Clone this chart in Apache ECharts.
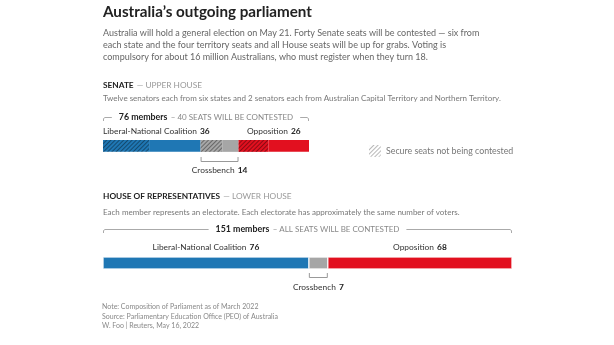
<!DOCTYPE html>
<html><head><meta charset="utf-8">
<script src="https://cdn.jsdelivr.net/npm/echarts@6/dist/echarts.min.js"></script>
<style>html,body{margin:0;padding:0;background:#fff}#c{width:614px;height:345px}</style>
</head><body><div id="c"></div>
<script>
// ---- data ----
const parties = ['Liberal-National Coalition', 'Crossbench', 'Opposition'];
const senateSeats = [36, 14, 26];
const senateSecure = [17, 8, 11];   // seats not being contested
const senateContestedTotal = 40;
const houseSeats = [76, 7, 68];
const colors = ['#1f77b4', '#a6a6a6', '#e2101f'];

const FONT = 'Lato, "Open Sans", sans-serif';
const chart = echarts.init(document.getElementById('c'), null, {renderer: 'canvas'});

const sum = a => a.reduce((s, v) => s + v, 0);
const senateTotal = sum(senateSeats);
const houseTotal = sum(houseSeats);

const hatch = {
  symbol: 'rect', symbolSize: 1, color: 'rgba(0,0,0,0.38)',
  dashArrayX: [1, 0], dashArrayY: [1, 1.4], rotation: -Math.PI / 4
};

const series = [];
parties.forEach((p, i) => {
  series.push({
    type: 'bar', name: p + ' secure', stack: 's', xAxisIndex: 0, yAxisIndex: 0,
    barWidth: '100%', data: [senateSecure[i]], silent: true,
    itemStyle: {color: colors[i], decal: hatch}
  });
  series.push({
    type: 'bar', name: p + ' contested', stack: 's', xAxisIndex: 0, yAxisIndex: 0,
    barWidth: '100%', data: [senateSeats[i] - senateSecure[i]], silent: true,
    itemStyle: {color: colors[i]}
  });
});
parties.forEach((p, i) => {
  series.push({
    type: 'bar', name: p + ' house', stack: 'h', xAxisIndex: 1, yAxisIndex: 1,
    barWidth: '100%', data: [houseSeats[i]], silent: true,
    itemStyle: {color: colors[i], borderColor: '#fff', borderWidth: 0.6}
  });
});
// legend-only series
series.push({
  type: 'bar', name: 'Secure seats not being contested', xAxisIndex: 0, yAxisIndex: 0,
  data: [], itemStyle: {color: '#fff', decal: {symbol: 'rect', symbolSize: 1, color: '#b8b8b8',
    dashArrayX: [1, 0], dashArrayY: [1, 1.4], rotation: -Math.PI / 4}}
});

chart.setOption({
  animation: false,
  grid: [
    {left: 103, width: 206, top: 140, height: 13},
    {left: 103, width: 409, top: 257, height: 12}
  ],
  xAxis: [
    {gridIndex: 0, type: 'value', min: 0, max: senateTotal, show: false},
    {gridIndex: 1, type: 'value', min: 0, max: houseTotal, show: false}
  ],
  yAxis: [
    {gridIndex: 0, type: 'category', data: ['Senate'], show: false},
    {gridIndex: 1, type: 'category', data: ['House'], show: false}
  ],
  legend: {
    data: ['Secure seats not being contested'], left: 364, top: 140, itemWidth: 12, itemHeight: 12,
    itemGap: 7, selectedMode: false,
    textStyle: {color: '#777', fontSize: 8.8, fontFamily: FONT}
  },
  series: series
});

// ---- annotations, placed from the axes ----
const px = (g, v) => chart.convertToPixel({xAxisIndex: g, yAxisIndex: g}, [v, 0])[0];
const g = [];
const txt = (x, y, rich, parts, align) => ({
  type: 'text', x: x, y: y,
  style: {text: parts, rich: rich, align: align || 'left', verticalAlign: 'middle', fontFamily: FONT}
});
const richLab = {
  n: {fontSize: 8.4, fill: '#333', fontFamily: FONT},
  b: {fontSize: 8.4, fill: '#222', fontWeight: 'bold', fontFamily: FONT}
};

// Title & subtitle
g.push({type: 'text', x: 103, y: 12, style: {text: 'Australia\u2019s outgoing parliament', fontSize: 15.2,
  fontWeight: 'bold', fill: '#222', fontFamily: FONT, verticalAlign: 'middle'}});
['Australia will hold a general election on May 21. Forty Senate seats will be contested \u2014 six from',
 'each state and the four territory seats and all House seats will be up for grabs. Voting is',
 'compulsory for about 16 million Australians, who must register when they turn 18.'
].forEach((l, i) => g.push({type: 'text', x: 103, y: 33 + i * 12,
  style: {text: l, fontSize: 9.0, fill: '#666', fontFamily: FONT, verticalAlign: 'middle'}}));

const secRich = {
  h: {fontSize: 8.3, fontWeight: 'bold', fill: '#222', fontFamily: FONT},
  l: {fontSize: 8.3, fill: '#999', fontFamily: FONT}
};
g.push(txt(103, 85, secRich, '{h|SENATE} {l|\u2014 UPPER HOUSE}'));
g.push({type: 'text', x: 103, y: 98, style: {text: 'Twelve senators each from six states and 2 senators each from Australian Capital Territory and Northern Territory.',
  fontSize: 8.0, fill: '#777', fontFamily: FONT, verticalAlign: 'middle'}});
g.push(txt(103, 196, secRich, '{h|HOUSE OF REPRESENTATIVES} {l|\u2014 LOWER HOUSE}'));
g.push({type: 'text', x: 103, y: 212, style: {text: 'Each member represents an electorate. Each electorate has approximately the same number of voters.',
  fontSize: 8.0, fill: '#777', fontFamily: FONT, verticalAlign: 'middle'}});

function topBracket(gi, total, y, boldTxt, lightTxt) {
  const x0 = px(gi, 0), x1 = px(gi, total);
  g.push({type: 'polyline', shape: {points: [[x0 + 0.5, y + 4], [x0 + 0.5, y + 1.5], [x0 + 2, y + 0.5], [x1 - 2, y + 0.5], [x1 - 0.5, y + 1.5], [x1 - 0.5, y + 4]]},
    style: {stroke: '#aaa', lineWidth: 1, fill: null}});
  g.push({type: 'text', x: (x0 + x1) / 2, y: y + 0.5, z: 10, style: {
    text: '{b|' + boldTxt + '} {l|' + lightTxt + '}', align: 'center', verticalAlign: 'middle',
    backgroundColor: '#fff', padding: [0, 7],
    rich: {b: {fontSize: 8.8, fontWeight: 'bold', fill: '#222', fontFamily: FONT},
           l: {fontSize: 8.0, fill: '#888', fontFamily: FONT}}}});
}
topBracket(0, senateTotal, 117, senateTotal + ' members', '\u2013 ' + senateContestedTotal + ' SEATS WILL BE CONTESTED');
topBracket(1, houseTotal, 229, houseTotal + ' members', '\u2013 ALL SEATS WILL BE CONTESTED');

function partyLabels(gi, seats, yTop, yBottom, barBottom) {
  let acc = 0;
  const x0 = px(gi, 0), xEnd = px(gi, sum(seats));
  seats.forEach((v, i) => {
    const a = px(gi, acc), b = px(gi, acc + v);
    acc += v;
    const label = parties[i];
    const s = '{n|' + label + '} {b|' + v + '}';
    if (i === 1) {
      g.push({type: 'polyline', shape: {points: [[a + 0.5, barBottom + 4], [a + 0.5, barBottom + 8.5], [b - 0.5, barBottom + 8.5], [b - 0.5, barBottom + 4]]},
        style: {stroke: '#999', lineWidth: 1, fill: null}});
      g.push(txt((a + b) / 2, yBottom, richLab, s, 'center'));
    } else {
      const w = (label.length + 3) * 3.95;
      const cx = (a + b) / 2;
      if (cx - w / 2 < x0) g.push(txt(x0, yTop, richLab, s, 'left'));
      else if (cx + w / 2 > xEnd) g.push(txt(xEnd, yTop, richLab, s, 'right'));
      else g.push(txt(cx, yTop, richLab, s, 'center'));
    }
  });
}
partyLabels(0, senateSeats, 131, 170, 153);
partyLabels(1, houseSeats, 247, 287, 269);

const foot = {fontSize: 7.0, fill: '#888', fontFamily: FONT, verticalAlign: 'middle'};
['Note: Composition of Parliament as of March 2022',
 'Source: Parliamentary Education Office (PEO) of Australia',
 'W. Foo | Reuters, May 16, 2022'
].forEach((l, i) => g.push({type: 'text', x: 102, y: 307 + i * 9.5, style: Object.assign({text: l}, foot)}));

chart.setOption({graphic: g});
</script></body></html>
